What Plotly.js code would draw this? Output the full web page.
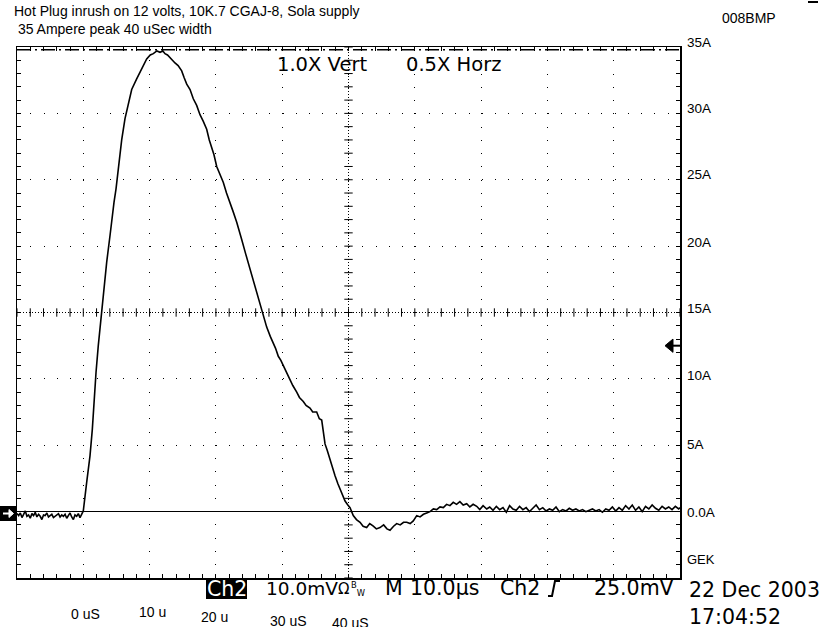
<!DOCTYPE html>
<html><head><meta charset="utf-8">
<script src="https://cdn.plot.ly/plotly-3.0.1.min.js"></script>
<style>html,body{margin:0;padding:0;background:#fff;}#chart{width:827px;height:627px;}</style>
</head><body><div id="chart"></div>
<script>
// ---------------- data ----------------
const titleLines = ['Hot Plug inrush on 12 volts, 10K.7 CGAJ-8, Sola supply', ' 35 Ampere peak 40 uSec width'];
const fileTag = '008BMP';

const preTriggerTime = [-10,-9.75,-9.5,-9.25,-9,-8.75,-8.5,-8.25,-8,-7.75,-7.5,-7.25,-7,-6.75,-6.5,-6.25,-6,-5.75,-5.5,-5.25,-5,-4.75,-4.5,-4.25,-4,-3.75,-3.5,-3.25,-3,-2.75,-2.5,-2.25,-2,-1.75,-1.5,-1.25,-1,-0.75,-0.5,-0.25,0];
const preTriggerCurrent = [-0.15,-0.30,-0.10,-0.45,-0.20,0.05,-0.35,-0.25,-0.50,-0.15,
  -0.30,-0.05,-0.40,-0.20,-0.35,-0.60,-0.25,-0.30,-0.10,-0.40,
  -0.30,-0.20,-0.45,-0.35,-0.30,-0.15,-0.40,-0.25,-0.35,-0.20,
  -0.50,-0.30,-0.10,-0.40,-0.60,-0.25,-0.35,-0.15,-0.45,-0.20,0.05];

const pulseTime = [0.51,1.01,1.36,1.66,1.92,2.26,2.78,3.17,3.53,4.03,
  4.28,4.63,4.93,5.28,5.79,6.29,6.79,7.30,8.05,8.81,
  9.56,10.1,10.56,11.1,11.57,12.0,12.32,12.7,13.08,13.5,
  13.83,14.3,14.84,15.2,15.6,16.1,16.59,17.1,17.6,18.1,
  18.61,19.0,19.37,19.7,20.12,20.6,21.12,21.6,22.13,22.6,
  23.14,23.5,23.89,24.5,25.14,25.5,25.9,26.4,26.91,27.3,
  27.66,28.2,28.66,29.0,29.41,29.8,30.17,30.7,31.17,31.6,
  32.19,32.6,33.18,33.6,34.19,34.6,35.2,35.6,35.96,36.2,
  36.46,36.8,37.21,37.6,37.97,38.4,38.72,39.1,39.48,39.9,
  40.23,40.72,41.2,41.74,42.2,42.74,43.2,43.74,44.2,44.75,
  45.3,45.8,46.26,46.8,47.27,47.8,48.3,48.78,49.3,49.77,
  50.29,50.8,51.3,51.8,52.3,52.8,53.3,53.8,54.3,54.8,
  55.3,55.8,56.3,56.8,57.3,57.83,58.3,58.8,59.34,59.8,
  60.3,60.85];
const pulseCurrent = [2.2,4.2,6.2,8.7,10.5,12.5,15.2,16.8,18.8,20.8,
  22.0,23.3,24.3,26.0,28.0,29.6,30.8,31.8,32.6,33.3,
  34.1,34.4,34.5,34.7,34.6,34.7,34.5,34.4,34.2,33.9,
  33.8,33.6,33.2,32.7,32.2,31.8,31.1,30.6,29.9,29.4,
  28.8,28.0,27.5,26.9,26.0,25.4,24.8,24.0,23.3,22.6,
  21.8,21.1,20.5,19.4,18.3,17.6,17.0,16.1,15.25,14.5,
  13.9,13.2,12.7,12.3,11.7,11.4,11.0,10.4,10.0,9.5,
  9.0,8.6,8.3,8.0,7.8,7.5,7.5,7.0,6.9,6.0,
  5.1,4.6,3.9,3.3,2.7,2.1,1.7,1.2,0.8,0.5,
  0.3,-0.3,-0.6,-0.8,-1.1,-1.2,-0.9,-1.1,-1.3,-1.2,
  -1.0,-1.3,-1.4,-1.1,-0.9,-1.0,-0.8,-0.8,-0.9,-0.7,
  -0.3,-0.4,-0.2,-0.1,0.0,0.2,0.15,0.35,0.3,0.55,
  0.45,0.7,0.55,0.75,0.5,0.6,0.35,0.55,0.4,0.15,
  0.45,0.2];

const tailTime = [61.3,61.8,62.3,62.8,63.3,63.8,64.3,64.8,65.3,65.8,66.3,66.8,67.3,67.8,68.3,68.8,69.3,69.8,70.3,70.8,71.3,71.8,72.3,72.8,73.3,73.8,74.3,74.8,75.3,75.8,76.3,76.8,77.3,77.8,78.3,78.8,79.3,79.8,80.3,80.8,81.3,81.8,82.3,82.8,83.3,83.8,84.3,84.8,85.3,85.8,86.3,86.8,87.3,87.8,88.3,88.8,89.3,89.8,90.0];
const tailCurrent = [0.35,0.1,0.4,0.15,0.3,-0.05,0.45,0.2,0.1,0.4,
  0.15,0.3,0.0,0.25,0.5,0.15,0.3,0.05,0.2,0.1,
  0.35,0.0,0.15,0.05,0.25,0.1,0.2,0.05,0.15,0.0,
  0.1,0.2,0.05,0.15,-0.05,0.2,0.1,0.35,0.05,0.3,
  0.1,0.45,0.2,0.5,0.1,0.35,0.0,0.4,0.2,0.5,
  0.25,0.1,0.4,0.2,0.35,0.15,0.4,0.2,0.3];

const ampTickValues = [35,30,25,20,15,10,5,0];
const ampTickLabels = ['35A','30A','25A','20A','15A','10A','5A','0.0A'];
const probeLabel = 'GEK';
const timeTickValues = [0,10,20,30,40];
const timeTickLabels = ['0 uS','10 u','20 u','30 uS','40 uS'];
const scaleNotes = ['1.0X Vert','0.5X Horz'];
const cursorLevel = 34.8;     // A
const triggerLevel = 12.5;    // A
const centerTime = 40, centerAmp = 15;
const statusItems = ['10.0mV','Ω','<sup>B</sup><sub>W</sub>','M','10.0µs','Ch2','25.0mV'];
const channelTag = 'Ch2';
const dateText = '22 Dec 2003';
const timeText = '17:04:52';

// ---------------- layout geometry ----------------
const W = 827, H = 627, L = 17, R = 680, T = 47, B = 578;
const X = px => (px - L) / (R - L);
const Y = py => (B - py) / (B - T);
const smallFont = {family: 'Liberation Sans, Arial, sans-serif', size: 14, color: '#000'};
const scopeFont = {family: 'DejaVu Sans, sans-serif', size: 20.5, color: '#000'};

const timeAll = preTriggerTime.concat(pulseTime, tailTime);
const ampAll = preTriggerCurrent.concat(pulseCurrent, tailCurrent);

// graticule tick marks on centre lines
const hTickX = [], hTickY = [], vTickX = [], vTickY = [];
for (let t = -10; t <= 90.001; t += 2) { hTickX.push(t); hTickY.push(centerAmp); }
for (let a = -5; a <= 35.001; a += 1) { vTickX.push(centerTime); vTickY.push(a); }

const traces = [
  {x: hTickX, y: hTickY, mode: 'markers', type: 'scatter', hoverinfo: 'skip',
   marker: {symbol: 'line-ns', size: 6, color: '#000', line: {width: 1, color: '#000'}}},
  {x: vTickX, y: vTickY, mode: 'markers', type: 'scatter', hoverinfo: 'skip',
   marker: {symbol: 'line-ew', size: 6, color: '#000', line: {width: 1, color: '#000'}}},
  {x: timeAll, y: ampAll, mode: 'lines', type: 'scatter', line: {color: '#000', width: 1.6}}
];

const annotations = [];
function note(text, px, py, font, extra) {
  annotations.push(Object.assign({text: text, xref: 'paper', yref: 'paper', x: X(px), y: Y(py),
    xanchor: 'left', yanchor: 'middle', showarrow: false, font: font, borderpad: 0}, extra || {}));
}
note(titleLines[0], 13, 11, smallFont);
note(titleLines[1], 13, 29, smallFont);
note(fileTag, 721, 18, smallFont);

const ampShift = [5, 5, 5, 4, 4, 3, 1, -1];
ampTickValues.forEach((v, i) => {
  annotations.push({text: ampTickLabels[i], xref: 'paper', yref: 'y', x: X(686), y: v, yshift: ampShift[i],
    xanchor: 'left', yanchor: 'middle', showarrow: false, font: Object.assign({}, smallFont, {size: 13.5}), borderpad: 0});
});
note(probeLabel, 686, 559, Object.assign({}, smallFont, {size: 13}));

const timeShiftX = [2, 3, -1, 6, 1.5];
const timeCenterY = [614, 612, 617, 621, 623];
timeTickValues.forEach((v, i) => {
  annotations.push({text: timeTickLabels[i], xref: 'x', yref: 'paper', x: v, xshift: timeShiftX[i], y: Y(timeCenterY[i]),
    xanchor: 'center', yanchor: 'middle', showarrow: false, font: smallFont, borderpad: 0});
});

note(scaleNotes[0], 276, 64, Object.assign({}, scopeFont, {size: 19.5}));
note(scaleNotes[1], 405, 64, Object.assign({}, scopeFont, {size: 19.5}));

// status line
annotations.push({text: channelTag, xref: 'paper', yref: 'paper', x: X(226.5), y: Y(589), xanchor: 'center', yanchor: 'middle',
  showarrow: false, font: Object.assign({}, scopeFont, {color: '#fff'}), borderpad: 0});
note(statusItems[0], 265, 588, Object.assign({}, scopeFont, {size: 18.5}));
note(statusItems[1], 337, 589, Object.assign({}, scopeFont, {size: 15}));
note(statusItems[2], 350, 589, Object.assign({}, scopeFont, {size: 12}));
note(statusItems[3], 384, 588, scopeFont);
note(statusItems[4], 409, 588, scopeFont);
note(statusItems[5], 499, 588, scopeFont);
note(statusItems[6], 593, 588, scopeFont);
note(dateText, 688, 590, scopeFont);
note(timeText, 688, 617, scopeFont);

const P = (px, py) => X(px).toFixed(5) + ',' + Y(py).toFixed(5);
const shapes = [
  // centre cross-hair, dense dots
  {type: 'line', xref: 'x', yref: 'y', x0: -10, x1: 90, y0: centerAmp, y1: centerAmp, line: {color: '#000', width: 1, dash: '1px,2px'}},
  {type: 'line', xref: 'x', yref: 'y', x0: centerTime, x1: centerTime, y0: -5, y1: 35, line: {color: '#000', width: 1, dash: '1px,2px'}},
  // cursor line near the top
  {type: 'line', xref: 'x', yref: 'y', x0: -10, x1: 90, y0: cursorLevel, y1: cursorLevel, line: {color: '#000', width: 1.5, dash: '14px,4px,2px,4px'}},
  // Ch2 inverse box
  {type: 'rect', xref: 'paper', yref: 'paper', x0: X(206), x1: X(247), y0: Y(599), y1: Y(579), fillcolor: '#000', line: {width: 0}},
  // trigger slope glyph
  {type: 'path', xref: 'paper', yref: 'paper', path: 'M' + P(548, 596) + 'L' + P(552, 596) + 'L' + P(555, 581) + 'L' + P(560, 581),
   line: {color: '#000', width: 2}},
  // ground reference marker on the left
  {type: 'rect', xref: 'paper', yref: 'paper', x0: X(0), x1: X(16), y0: Y(521), y1: Y(506), fillcolor: '#000', line: {width: 0}},
  {type: 'line', xref: 'paper', yref: 'paper', x0: X(3), x1: X(11), y0: Y(513.5), y1: Y(513.5), line: {color: '#fff', width: 2}},
  {type: 'path', xref: 'paper', yref: 'paper', path: 'M' + P(9, 509.5) + 'L' + P(13.5, 513.5) + 'L' + P(9, 517.5) + 'Z', fillcolor: '#fff', line: {color: '#fff', width: 1}},
  // small mark top-right
  {type: 'line', xref: 'paper', yref: 'paper', x0: X(808), x1: X(818), y0: Y(2), y1: Y(2), line: {color: '#000', width: 2}},
  // trigger level marker on the right
  {type: 'path', xref: 'paper', yref: 'y', path: 'M' + X(665).toFixed(5) + ',' + triggerLevel + 'L' + X(673).toFixed(5) + ',' + (triggerLevel + 0.5) + 'L' + X(673).toFixed(5) + ',' + (triggerLevel - 0.5) + 'Z',
   fillcolor: '#000', line: {color: '#000', width: 1}},
  {type: 'line', xref: 'paper', yref: 'y', x0: X(672), x1: X(680), y0: triggerLevel, y1: triggerLevel, line: {color: '#000', width: 2}}
];

const axisCommon = {
  showline: true, linecolor: '#000', linewidth: 1.5, mirror: 'ticks',
  showgrid: true, gridcolor: '#000', gridwidth: 1,
  ticks: 'inside', ticklen: 4, tickcolor: '#000', tickwidth: 1,
  showticklabels: false, fixedrange: true
};
const layout = {
  width: W, height: H,
  margin: {l: L, r: W - R, t: T, b: H - B, pad: 0},
  paper_bgcolor: '#fff', plot_bgcolor: '#fff',
  showlegend: false, hovermode: false,
  xaxis: Object.assign({}, axisCommon, {range: [-10, 90], dtick: 10, tick0: 0, zeroline: false,
    griddash: '1px,12.26px', minor: {dtick: 2, ticks: 'inside', ticklen: 4, tickcolor: '#000', showgrid: false}}),
  yaxis: Object.assign({}, axisCommon, {range: [-5, 35], dtick: 5, tick0: 0, zeroline: true, zerolinecolor: '#000', zerolinewidth: 1,
    griddash: '1px,12.28px', minor: {dtick: 1, ticks: 'inside', ticklen: 4, tickcolor: '#000', showgrid: false}}),
  annotations: annotations,
  shapes: shapes
};
Plotly.newPlot('chart', traces, layout, {staticPlot: true, displayModeBar: false});
</script>
</body></html>
